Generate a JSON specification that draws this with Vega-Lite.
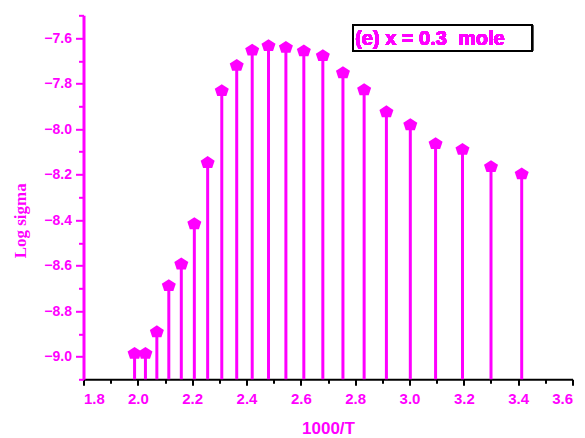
{
  "$schema": "https://vega.github.io/schema/vega-lite/v6.json",
  "width": 489,
  "height": 364,
  "autosize": "none",
  "padding": {"left": 83.5, "top": 15.3, "right": 12.5, "bottom": 58.7},
  "background": "white",
  "config": {"view": {"stroke": null}, "axis": {"grid": false}},
  "data": {
    "values": [
      {"invT": 1.988, "logsigma": -8.984},
      {"invT": 2.028, "logsigma": -8.984},
      {"invT": 2.070, "logsigma": -8.889},
      {"invT": 2.114, "logsigma": -8.686},
      {"invT": 2.160, "logsigma": -8.591},
      {"invT": 2.208, "logsigma": -8.414},
      {"invT": 2.257, "logsigma": -8.145},
      {"invT": 2.309, "logsigma": -7.829},
      {"invT": 2.364, "logsigma": -7.718},
      {"invT": 2.421, "logsigma": -7.651},
      {"invT": 2.481, "logsigma": -7.631},
      {"invT": 2.545, "logsigma": -7.639},
      {"invT": 2.611, "logsigma": -7.654},
      {"invT": 2.681, "logsigma": -7.675},
      {"invT": 2.755, "logsigma": -7.750},
      {"invT": 2.833, "logsigma": -7.825},
      {"invT": 2.915, "logsigma": -7.922},
      {"invT": 3.003, "logsigma": -7.979},
      {"invT": 3.096, "logsigma": -8.062},
      {"invT": 3.195, "logsigma": -8.087},
      {"invT": 3.300, "logsigma": -8.163},
      {"invT": 3.413, "logsigma": -8.195}
    ]
  },
  "layer": [
    {
      "mark": {"type": "rule", "color": "#FF00FF", "strokeWidth": 3},
      "encoding": {
        "x": {
          "field": "invT", "type": "quantitative",
          "scale": {"domain": [1.8, 3.6], "nice": false, "zero": false},
          "axis": {
            "orient": "bottom",
            "values": [1.8, 2.0, 2.2, 2.4, 2.6, 2.8, 3.0, 3.2, 3.4, 3.6],
            "format": ".1f",
            "domainColor": "black", "domainWidth": 2,
            "tickColor": "black", "tickWidth": 2, "tickSize": 6,
            "labelColor": "#FF00FF", "labelFont": "Liberation Sans", "labelFontWeight": "bold", "labelFontSize": 15,
            "labelPadding": 6,
            "title": "1000/T",
            "titleColor": "#FF00FF", "titleFont": "Liberation Sans", "titleFontWeight": "bold", "titleFontSize": 17,
            "titleBaseline": "alphabetic", "titleY": 54
          }
        },
        "y": {
          "field": "logsigma", "type": "quantitative",
          "scale": {"domain": [-9.1, -7.5], "nice": false, "zero": false},
          "axis": {
            "orient": "left",
            "values": [-9.0, -8.8, -8.6, -8.4, -8.2, -8.0, -7.8, -7.6],
            "format": ".1f",
            "domainColor": "#FF00FF", "domainWidth": 3,
            "tickColor": "#FF00FF", "tickWidth": 2, "tickSize": 8,
            "labelColor": "#FF00FF", "labelFont": "Liberation Sans", "labelFontWeight": "bold", "labelFontSize": 14,
            "labelPadding": 4,
            "title": "Log sigma",
            "titleColor": "#FF00FF", "titleFont": "Liberation Serif", "titleFontWeight": "bold", "titleFontSize": 17,
            "titleAngle": -90, "titleAlign": "center", "titleBaseline": "middle",
            "titleX": -63, "titleY": 205
          }
        },
        "y2": {"datum": -9.1}
      }
    },
    {
      "mark": {
        "type": "point",
        "shape": "M0,-0.85L1,-0.2L0.65,0.85L-0.65,0.85L-1,-0.2Z",
        "filled": true, "color": "#FF00FF", "opacity": 1, "size": 196
      },
      "encoding": {
        "x": {"field": "invT", "type": "quantitative", "scale": {"domain": [1.8, 3.6], "nice": false, "zero": false}, "axis": null},
        "y": {"field": "logsigma", "type": "quantitative", "scale": {"domain": [-9.1, -7.5], "nice": false, "zero": false}, "axis": null}
      }
    },
    {
      "mark": {"type": "point", "opacity": 0},
      "encoding": {
        "x": {
          "field": "invT", "type": "quantitative",
          "scale": {"domain": [1.8, 3.6], "nice": false, "zero": false},
          "axis": {
            "orient": "bottom",
            "values": [1.9, 2.1, 2.3, 2.5, 2.7, 2.9, 3.1, 3.3, 3.5],
            "labels": false, "domain": false, "title": null,
            "tickColor": "black", "tickWidth": 2, "tickSize": 4
          }
        },
        "y": {
          "field": "logsigma", "type": "quantitative",
          "scale": {"domain": [-9.1, -7.5], "nice": false, "zero": false},
          "axis": {
            "orient": "left",
            "values": [-9.1, -8.9, -8.7, -8.5, -8.3, -8.1, -7.9, -7.7, -7.5],
            "labels": false, "domain": false, "title": null,
            "tickColor": "#FF00FF", "tickWidth": 2, "tickSize": 5
          }
        }
      }
    },
    {
      "mark": {"type": "rect", "fill": "white", "fillOpacity": 0, "stroke": "black", "strokeWidth": 1.5},
      "encoding": {
        "x": {"datum": 2.792, "type": "quantitative", "scale": {"domain": [1.8, 3.6], "nice": false, "zero": false}, "axis": null},
        "x2": {"datum": 3.452},
        "y": {"datum": -7.543, "type": "quantitative", "scale": {"domain": [-9.1, -7.5], "nice": false, "zero": false}, "axis": null},
        "y2": {"datum": -7.657}
      }
    },
    {
      "mark": {
        "type": "text", "align": "left", "baseline": "alphabetic",
        "font": "Liberation Sans", "fontWeight": "bold", "fontSize": 20, "color": "#FF00FF"
      },
      "encoding": {
        "x": {"datum": 2.8, "type": "quantitative", "scale": {"domain": [1.8, 3.6], "nice": false, "zero": false}, "axis": null},
        "y": {"datum": -7.6325, "type": "quantitative", "scale": {"domain": [-9.1, -7.5], "nice": false, "zero": false}, "axis": null},
        "text": {"value": "(e) x = 0.3\u00a0 mole"}
      }
    }
  ],
  "resolve": {"axis": {"x": "independent", "y": "independent"}}
}
